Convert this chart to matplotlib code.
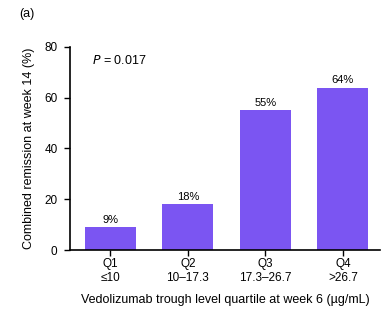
import matplotlib
matplotlib.use('Agg')
import matplotlib.pyplot as plt
import numpy as np

plt.rcParams['font.family'] = ['Liberation Sans', 'DejaVu Sans']

quartiles = ['Q1\n≤10', 'Q2\n10–17.3', 'Q3\n17.3–26.7', 'Q4\n>26.7']
remission = [9, 18, 55, 64]
yticks = [0, 20, 40, 60, 80]
bar_color = '#7b55f2'

fig = plt.figure(figsize=(3.91, 3.21), dpi=100)
ax = fig.add_axes([0.179, 0.221, 0.793, 0.633])

x = np.arange(len(quartiles))
ax.bar(x, remission, width=0.66, color=bar_color)
for xi, v in zip(x, remission):
    ax.text(xi, v + 1.0, f'{v}%', ha='center', va='bottom', fontsize=8)

ax.set_xlim(-0.52, 3.48)
ax.set_ylim(0, 80)
ax.set_yticks(yticks)
ax.set_xticks(x)
ax.set_xticklabels(quartiles, fontsize=8.5, linespacing=1.2)
ax.tick_params(axis='y', labelsize=8.5, length=4, width=1.0, pad=5)
ax.tick_params(axis='x', length=4, width=1.0, pad=2)
for side in ['top', 'right']:
    ax.spines[side].set_visible(False)
for side in ['left', 'bottom']:
    ax.spines[side].set_linewidth(1.2)

ax.set_ylabel('Combined remission at week 14 (%)', fontsize=9, labelpad=7)
ax.set_xlabel('Vedolizumab trough level quartile at week 6 (µg/mL)', fontsize=9, labelpad=7)
ax.text(0.07, 0.965, r'$P$ = 0.017', transform=ax.transAxes, fontsize=9, va='top', ha='left')
fig.text(0.05, 0.955, '(a)', fontsize=9, ha='left', va='center')

fig.savefig('out.png', dpi=100)
